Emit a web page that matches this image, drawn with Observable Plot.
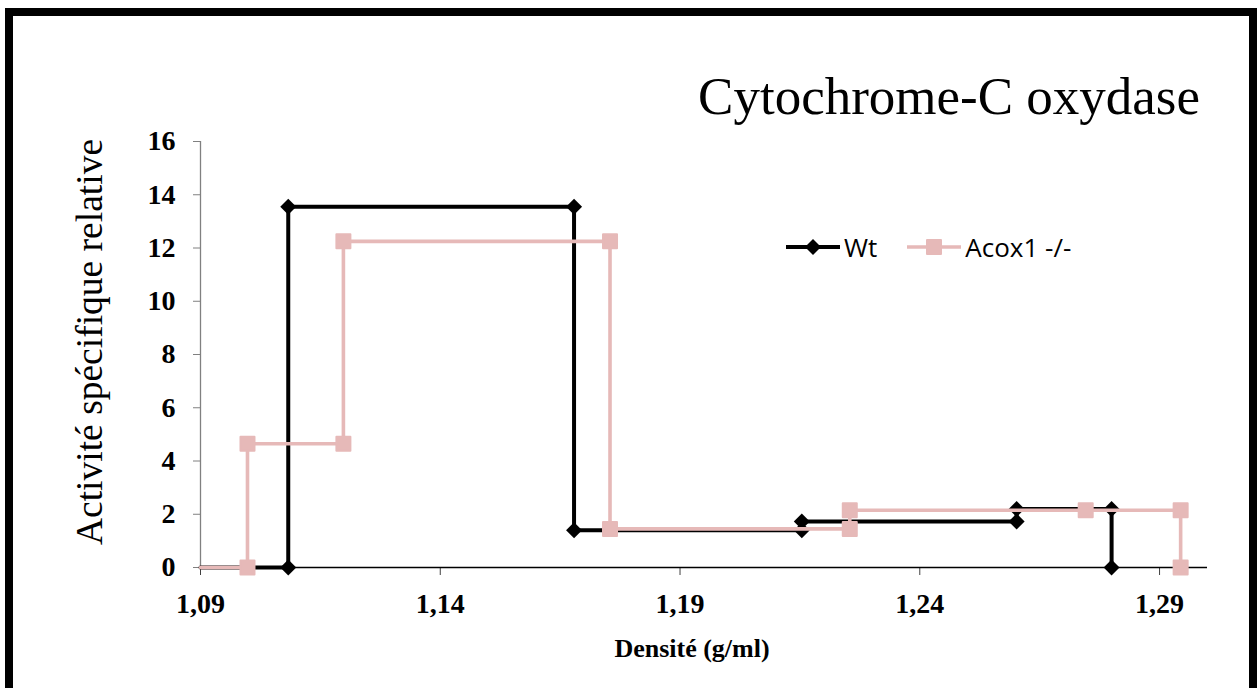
<!DOCTYPE html>
<html><head><meta charset="utf-8">
<script src="https://cdn.jsdelivr.net/npm/d3@7"></script>
<script src="https://cdn.jsdelivr.net/npm/@observablehq/plot@0.6"></script>
<style>
html,body{margin:0;padding:0;background:#fff;overflow:hidden}
#wrap{position:relative;width:1258px;height:688px;overflow:hidden}
#frame{position:absolute;left:5px;top:8px;width:1252px;height:720px;border:8px solid #000;box-sizing:border-box;pointer-events:none}
#chart{position:absolute;left:0;top:0}
#title{position:absolute;right:58px;top:70px;font-family:"Liberation Serif","Times New Roman",serif;font-size:53px;line-height:53px;white-space:nowrap;color:#000}
#ylabel{position:absolute;left:90px;top:342px;font-family:"Liberation Serif","Times New Roman",serif;font-size:37.5px;line-height:38px;white-space:nowrap;transform:translate(-50%,-50%) rotate(-90deg);color:#000}
#xlabel{position:absolute;left:692px;top:636px;transform:translateX(-50%);font-family:"Liberation Serif","Times New Roman",serif;font-weight:bold;font-size:26px;line-height:26px;white-space:nowrap;color:#000}
#legend{position:absolute;left:786px;top:233px;display:flex;align-items:center;font-family:"Open Sans",sans-serif;font-size:26px;line-height:28px;color:#000}
#legend .item{display:flex;align-items:center}
#legend svg{display:block}
</style>
</head><body>
<div id="wrap">
  <div id="chart"></div>
  <div id="title"></div>
  <div id="ylabel"></div>
  <div id="xlabel"></div>
  <div id="legend"></div>
  <div id="frame"></div>
</div>
<script>
// ---- data ----
const titleText = "Cytochrome-C oxydase";
const yLabelText = "Activité spécifique relative";
const xLabelText = "Densité (g/ml)";
const seriesNames = ["Wt", "Acox1 -/-"];
const seriesColors = ["#000000", "#e6b9b8"];

const xTicks = [1.09, 1.14, 1.19, 1.24, 1.29];
const yTicks = [0, 2, 4, 6, 8, 10, 12, 14, 16];
const xDomain = [1.09, 1.30];
const yDomain = [0, 16];

const wtX = [1.09, 1.1083, 1.1083, 1.1679, 1.1679, 1.2154, 1.2154, 1.2602, 1.2602, 1.2800, 1.2800];
const wtY = [0, 0, 13.55, 13.55, 1.40, 1.40, 1.73, 1.73, 2.20, 2.20, 0];

const acoxX = [1.09, 1.0998, 1.0998, 1.1198, 1.1198, 1.1754, 1.1754, 1.2254, 1.2254, 1.2746, 1.2944, 1.2944];
const acoxY = [0, 0, 4.65, 4.65, 12.25, 12.25, 1.45, 1.45, 2.15, 2.15, 2.15, 0];

// ---- build tables ----
const wt = wtX.map((x, i) => ({x, y: wtY[i], i}));
const acox = acoxX.map((x, i) => ({x, y: acoxY[i], i}));

const fmtX = d => d.toFixed(2).replace(".", ",");
const serif = "Liberation Serif, Times New Roman, serif";

const chart = Plot.plot({
  width: 1258,
  height: 688,
  marginLeft: 200,
  marginRight: 51,
  marginTop: 141,
  marginBottom: 121,
  style: {background: "transparent", overflow: "visible"},
  x: {domain: xDomain, ticks: xTicks},
  y: {domain: yDomain, ticks: yTicks},
  marks: [
    Plot.axisY({ticks: yTicks, tickSize: 7, tickPadding: 18, label: null,
      fontSize: 28, fontWeight: "bold", fontFamily: serif, stroke: "#808080", fill: "#000"}),
    Plot.axisX({ticks: xTicks, tickSize: 8, tickPadding: 18, label: null, tickFormat: fmtX,
      fontSize: 28, fontWeight: "bold", fontFamily: serif, stroke: "#404040", fill: "#000"}),
    Plot.ruleX([xDomain[0]], {stroke: "#808080", strokeWidth: 1.3}),
    Plot.ruleY([yDomain[0]], {stroke: "#000", strokeWidth: 1.5}),
    Plot.line(wt, {x: "x", y: "y", stroke: seriesColors[0], strokeWidth: 4, curve: "linear"}),
    Plot.dot(wt, {x: "x", y: "y", filter: d => d.i > 0, symbol: "diamond2", r: 7.2, fill: seriesColors[0], stroke: "none"}),
    Plot.line(acox, {x: "x", y: "y", stroke: seriesColors[1], strokeWidth: 3.6, curve: "linear"}),
    Plot.dot(acox, {x: "x", y: "y", filter: d => d.i > 0, symbol: "square", r: 7.9, fill: seriesColors[1], stroke: seriesColors[1], strokeWidth: 2, strokeLinejoin: "round"})
  ]
});
document.getElementById("chart").appendChild(chart);

document.getElementById("title").textContent = titleText;
document.getElementById("ylabel").textContent = yLabelText;
document.getElementById("xlabel").textContent = xLabelText;

// legend
const legend = document.getElementById("legend");
const swatch = (kind, color) => {
  const ns = "http://www.w3.org/2000/svg";
  const svg = document.createElementNS(ns, "svg");
  svg.setAttribute("width", 54); svg.setAttribute("height", 20);
  const ln = document.createElementNS(ns, "line");
  ln.setAttribute("x1", 0); ln.setAttribute("x2", 54); ln.setAttribute("y1", 10); ln.setAttribute("y2", 10);
  ln.setAttribute("stroke", color); ln.setAttribute("stroke-width", kind === "diamond" ? 4 : 3.6);
  svg.appendChild(ln);
  if (kind === "diamond") {
    const p = document.createElementNS(ns, "path");
    p.setAttribute("d", "M27,2 L35,10 L27,18 L19,10 Z"); p.setAttribute("fill", color);
    svg.appendChild(p);
  } else {
    const r = document.createElementNS(ns, "rect");
    r.setAttribute("x", 20); r.setAttribute("y", 3); r.setAttribute("width", 14); r.setAttribute("height", 14);
    r.setAttribute("fill", color); r.setAttribute("stroke", color); r.setAttribute("stroke-width", 2); r.setAttribute("stroke-linejoin", "round");
    svg.appendChild(r);
  }
  return svg;
};
seriesNames.forEach((name, k) => {
  const item = document.createElement("div");
  item.className = "item";
  item.style.marginRight = k === 0 ? "30px" : "0";
  item.appendChild(swatch(k === 0 ? "diamond" : "square", seriesColors[k]));
  const t = document.createElement("span");
  t.textContent = name;
  t.style.marginLeft = "4px";
  item.appendChild(t);
  legend.appendChild(item);
});
</script>
</body></html>
